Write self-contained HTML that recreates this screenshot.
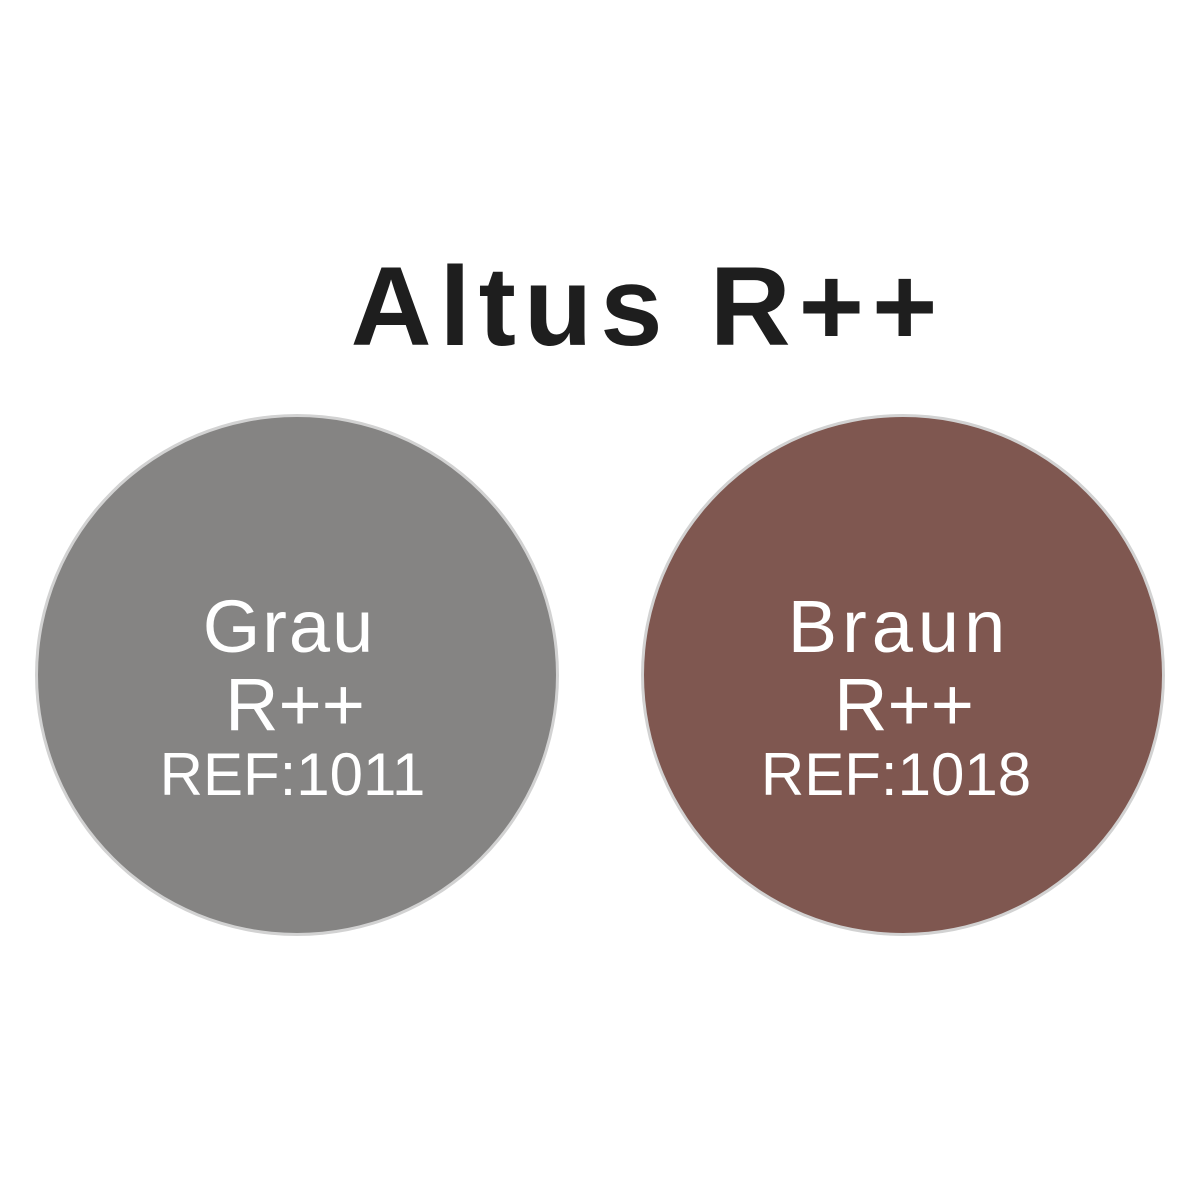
<!DOCTYPE html>
<html><head><style>
html,body{margin:0;padding:0;background:#fff;width:1200px;height:1200px;overflow:hidden}
.t{position:absolute;font-family:"Liberation Sans",sans-serif;color:#fff;text-align:center;white-space:nowrap;line-height:1}
.c{position:absolute;border-radius:50%;border:3px solid #d2d2d2;box-sizing:border-box}
</style></head><body>
<div class="t" style="left:0;width:1296px;top:251px;font-size:112px;font-weight:bold;color:#1e1e1e;letter-spacing:8px">Altus R++</div>
<div class="c" style="left:35px;top:414px;width:524px;height:522px;background:#858483"></div>
<div class="c" style="left:641px;top:414px;width:524px;height:522px;background:#7f5750"></div>
<div class="t" style="left:0;width:578px;top:590px;font-size:74px;letter-spacing:2px">Grau</div>
<div class="t" style="left:0;width:590px;top:668px;font-size:74px">R++</div>
<div class="t" style="left:0;width:585px;top:745px;font-size:60px">REF:1011</div>
<div class="t" style="left:606px;width:586px;top:590px;font-size:74px;letter-spacing:5px">Braun</div>
<div class="t" style="left:606px;width:596px;top:668px;font-size:74px">R++</div>
<div class="t" style="left:606px;width:580px;top:745px;font-size:60px">REF:1018</div>
</body></html>
